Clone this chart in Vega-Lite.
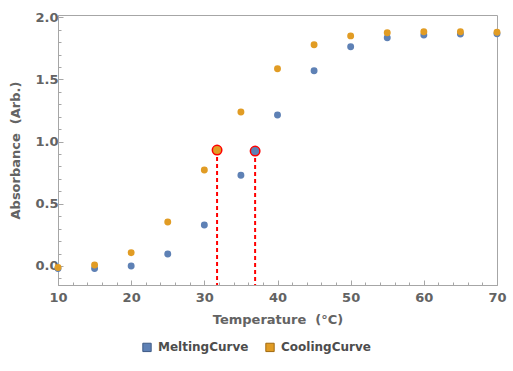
{
  "$schema": "https://vega.github.io/schema/vega-lite/v6.json",
  "autosize": {"type": "none"},
  "padding": {"left": 58, "top": 15, "right": 16, "bottom": 86},
  "width": 439,
  "height": 270,
  "background": "white",
  "config": {
    "view": {"stroke": "#a6a6a6", "strokeWidth": 1},
    "font": "DejaVu Sans",
    "axis": {
      "grid": false,
      "domainColor": "#a6a6a6",
      "tickColor": "#a6a6a6",
      "labelFont": "DejaVu Sans",
      "labelFontWeight": "bold",
      "labelFontSize": 13,
      "labelColor": "#636363",
      "titleFont": "DejaVu Sans",
      "titleFontWeight": "bold",
      "titleFontSize": 13,
      "titleColor": "#636363"
    }
  },
  "datasets": {
    "pts": [
      {"T": 10, "A": -0.02, "curve": "MeltingCurve"},
      {"T": 15, "A": -0.02, "curve": "MeltingCurve"},
      {"T": 20, "A": 0.0, "curve": "MeltingCurve"},
      {"T": 25, "A": 0.096, "curve": "MeltingCurve"},
      {"T": 30, "A": 0.33, "curve": "MeltingCurve"},
      {"T": 35, "A": 0.73, "curve": "MeltingCurve"},
      {"T": 40, "A": 1.214, "curve": "MeltingCurve"},
      {"T": 45, "A": 1.57, "curve": "MeltingCurve"},
      {"T": 50, "A": 1.763, "curve": "MeltingCurve"},
      {"T": 55, "A": 1.835, "curve": "MeltingCurve"},
      {"T": 60, "A": 1.857, "curve": "MeltingCurve"},
      {"T": 65, "A": 1.865, "curve": "MeltingCurve"},
      {"T": 70, "A": 1.867, "curve": "MeltingCurve"},
      {"T": 10, "A": -0.013, "curve": "CoolingCurve"},
      {"T": 15, "A": 0.008, "curve": "CoolingCurve"},
      {"T": 20, "A": 0.107, "curve": "CoolingCurve"},
      {"T": 25, "A": 0.354, "curve": "CoolingCurve"},
      {"T": 30, "A": 0.772, "curve": "CoolingCurve"},
      {"T": 35, "A": 1.238, "curve": "CoolingCurve"},
      {"T": 40, "A": 1.586, "curve": "CoolingCurve"},
      {"T": 45, "A": 1.779, "curve": "CoolingCurve"},
      {"T": 50, "A": 1.85, "curve": "CoolingCurve"},
      {"T": 55, "A": 1.875, "curve": "CoolingCurve"},
      {"T": 60, "A": 1.883, "curve": "CoolingCurve"},
      {"T": 65, "A": 1.883, "curve": "CoolingCurve"},
      {"T": 70, "A": 1.88, "curve": "CoolingCurve"}
    ],
    "tm": [
      {"T": 31.74, "A": 0.932, "curve": "CoolingCurve"},
      {"T": 36.94, "A": 0.924, "curve": "MeltingCurve"}
    ]
  },
  "encoding": {
    "x": {
      "field": "T", "type": "quantitative",
      "scale": {"domain": [10, 70], "nice": false, "zero": false},
      "axis": {
        "title": "Temperature\u00a0\u00a0(°C)",
        "values": [10,12,14,16,18,20,22,24,26,28,30,32,34,36,38,40,42,44,46,48,50,52,54,56,58,60,62,64,66,68,70],
        "labelExpr": "datum.value % 10 === 0 ? format(datum.value, 'd') : ''",
        "labelOverlap": false,
        "labelBound": false,
        "labelFlush": false,
        "tickSize": {"condition": {"test": "datum.value % 10 === 0", "value": -5}, "value": -3},
        "labelPadding": 11,
        "titlePadding": 7
      }
    },
    "y": {
      "field": "A", "type": "quantitative",
      "scale": {"domain": [-0.153, 2.018], "nice": false, "zero": false},
      "axis": {
        "title": "Absorbance\u00a0\u00a0(Arb.)",
        "values": [-0.1,0,0.1,0.2,0.3,0.4,0.5,0.6,0.7,0.8,0.9,1,1.1,1.2,1.3,1.4,1.5,1.6,1.7,1.8,1.9,2],
        "labelExpr": "abs(round(datum.value*10)) % 5 === 0 ? format(datum.value, '.1f') : ''",
        "labelOverlap": false,
        "labelBound": false,
        "labelFlush": false,
        "tickSize": {"condition": {"test": "abs(round(datum.value*10)) % 5 === 0", "value": -5}, "value": -3},
        "labelPadding": 5,
        "titlePadding": 12
      }
    }
  },
  "layer": [
    {
      "data": {"name": "pts"},
      "mark": {"type": "point", "filled": true, "shape": "circle", "size": 48, "opacity": 1, "strokeWidth": 0},
      "encoding": {
        "color": {
          "field": "curve", "type": "nominal",
          "scale": {"domain": ["MeltingCurve", "CoolingCurve"], "range": ["#5e81b5", "#e19c24"]},
          "legend": {
            "title": null,
            "orient": "none",
            "direction": "horizontal",
            "legendX": 83,
            "legendY": 326,
            "symbolType": "square",
            "symbolSize": 70,
            "symbolStrokeWidth": 1,
            "labelFont": "DejaVu Sans",
            "labelFontWeight": "bold",
            "labelFontSize": 12,
            "labelColor": "#4d4d4d",
            "labelOffset": 5,
            "columnPadding": 14
          }
        },
        "stroke": {
          "field": "curve", "type": "nominal",
          "scale": {"domain": ["MeltingCurve", "CoolingCurve"], "range": ["#3d5a85", "#a06a10"]},
          "legend": null
        }
      }
    },
    {
      "data": {"name": "tm"},
      "mark": {"type": "rule", "color": "#ff0000", "strokeWidth": 2, "strokeDash": [4, 3]},
      "encoding": {
        "y2": {"datum": -0.153}
      }
    },
    {
      "data": {"name": "tm"},
      "mark": {"type": "point", "filled": true, "shape": "circle", "size": 90, "opacity": 1, "stroke": "#ff0000", "strokeWidth": 1.5},
      "encoding": {
        "color": {"field": "curve", "type": "nominal"}
      }
    }
  ]
}
